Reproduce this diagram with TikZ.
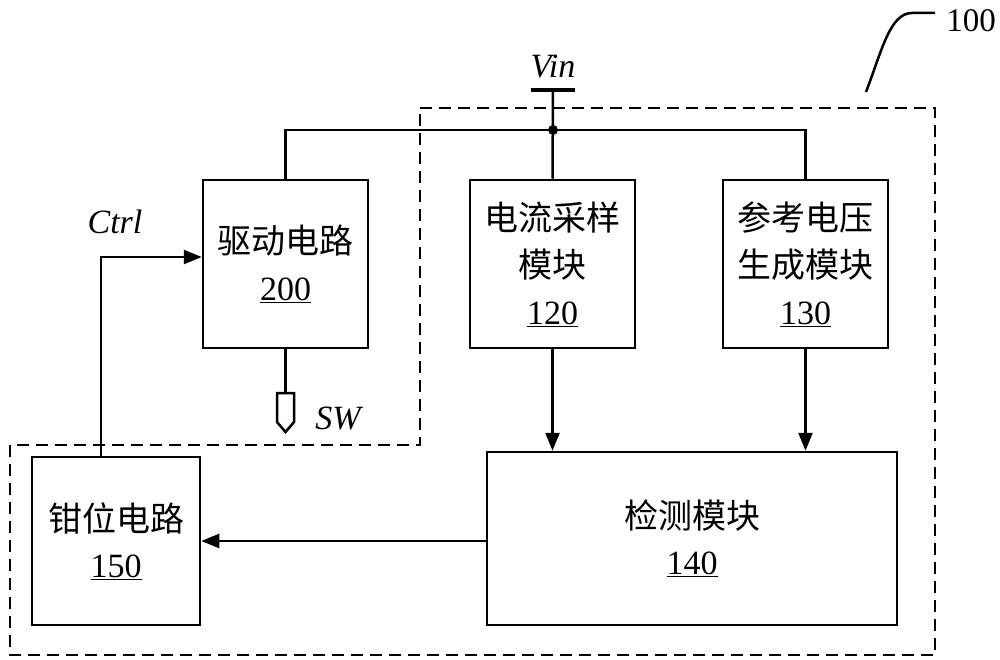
\documentclass[tikz,border=0pt]{standalone}
\usepackage{fontspec}
\setmainfont{Liberation Serif}
\newfontfamily\cjk{Noto Sans CJK SC}
\usetikzlibrary{arrows.meta}
\begin{document}
\begin{tikzpicture}[x=1pt,y=-1pt,
  line width=2.5pt,
  blk/.style={draw,line width=2.5pt,align=center,inner sep=0pt},
  lbl/.style={font=\fontsize{34}{40}\selectfont\itshape,inner sep=0pt},
  arr/.style={-{Triangle[length=18pt,width=14pt]}},
  bnd/.style={dashed,dash pattern=on 12pt off 7pt,line width=2.2pt}]
\useasboundingbox (0,0) rectangle (1000,660);
% dashed boundary of module 100
\draw[bnd] (420,108) -- (935,108) -- (935,655) -- (10,655) -- (10,445) -- (420,445) -- cycle;
% blocks
\node[blk,minimum width=165pt,minimum height=168pt,font=\fontsize{34}{47}\selectfont] (drv) at (285.5,264) {{\cjk 驱动电路}\\\underline{200}};
\node[blk,minimum width=165pt,minimum height=168pt,font=\fontsize{34}{47}\selectfont] (cur) at (552.5,264) {{\cjk 电流采样}\\{\cjk 模块}\\\underline{120}};
\node[blk,minimum width=165pt,minimum height=168pt,font=\fontsize{34}{47}\selectfont] (ref) at (805.5,264) {{\cjk 参考电压}\\{\cjk 生成模块}\\\underline{130}};
\node[blk,minimum width=410pt,minimum height=173pt,font=\fontsize{34}{46}\selectfont] (det) at (692,538.5) {{\cjk 检测模块}\\\underline{140}};
\node[blk,minimum width=168pt,minimum height=168pt,font=\fontsize{34}{46}\selectfont] (clp) at (116,541) {{\cjk 钳位电路}\\\underline{150}};
% Vin
\node[lbl] (vin) at (553,67) {Vin};
\coordinate (vb) at (553,90);
\coordinate (j) at (553,130);
\draw[line width=3.5pt] ([xshift=-22pt]vb) -- ([xshift=22pt]vb);
\draw (vb) -- (cur.north);
\draw (drv.north) |- (j) -| (ref.north);
\fill (j) circle (5pt);
% arrows
\draw[arr] (cur.south) -- (cur.south |- det.north);
\draw[arr] (ref.south) -- (ref.south |- det.north);
\draw[arr] (det.west |- clp.east) -- (clp.east);
\draw[arr] ([xshift=-15pt]clp.north) |- ([yshift=7pt]drv.west);
\node[lbl] (ctrl) at (115,222) {Ctrl};
% SW terminal
\coordinate (sw) at (285.5,393);
\draw (drv.south) -- (sw);
\draw[line join=miter] ([xshift=-8.5pt]sw) -- ([xshift=8.5pt]sw) -- ++(0,29) -- (285.5,432) -- (277,422) -- cycle;
\node[lbl] (swl) at (338,418) {SW};
% leader 100
\coordinate (ld) at (866,92);
\node[font=\fontsize{33}{38}\selectfont,inner sep=0pt] (n100) at (971,21) {100};
\draw (ld) .. controls (882,50) and (890,13) .. (912,13) -- (935,13);
\end{tikzpicture}
\end{document}
